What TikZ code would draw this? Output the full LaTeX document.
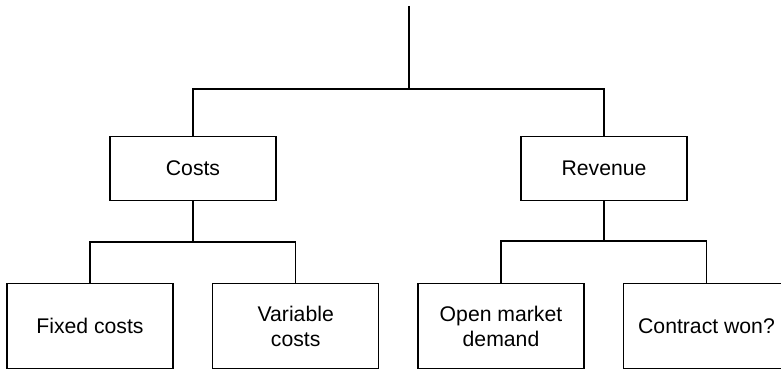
\documentclass[tikz,border=0pt]{standalone}
\usepackage{fontspec}
\setmainfont{Liberation Sans}
\usetikzlibrary{positioning}

\begin{document}
\begin{tikzpicture}[x=0.5pt, y=-0.5pt, line width=0.6pt,
    box/.style={draw, rectangle, minimum width=83pt, align=center, inner sep=0pt,
                font=\fontsize{10.6}{12.5}\selectfont},
    topbox/.style={box, minimum height=32pt},
    leafbox/.style={box, minimum height=42.5pt}]
    \useasboundingbox (0,0) rectangle (781,369);
    % Root line
    \coordinate (root) at (409,6);
    \coordinate (split) at (409,89);
    % Second level
    \node[topbox] (costs) at (193,168.5) {Costs};
    \node[topbox] (revenue) at (604,168.5) {Revenue};
    \coordinate (costsplit) at (193,242);
    \coordinate (revsplit) at (604,241);
    % Third level
    \node[leafbox] (fixed) at (90,326) {Fixed costs};
    \node[leafbox] (variable) at (295.7,326) {Variable\\costs};
    \node[leafbox] (openmkt) at (501,326) {Open market\\demand};
    \node[leafbox] (contract) at (706.5,326) {Contract won?};
    % Connectors
    \draw (root) -- (split);
    \draw (costs.north) |- (split) -| (revenue.north);
    \draw (costs.south) -- (costsplit);
    \draw (fixed.north) |- (costsplit) -| (variable.north);
    \draw (revenue.south) -- (revsplit);
    \draw (openmkt.north) |- (revsplit) -| (contract.north);
\end{tikzpicture}
\end{document}
